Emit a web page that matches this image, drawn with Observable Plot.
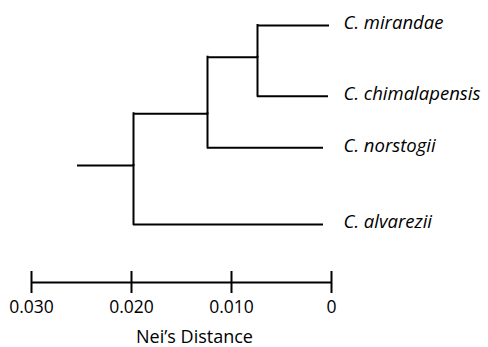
<!DOCTYPE html>
<html>
<head>
<meta charset="utf-8">
<script src="https://cdn.jsdelivr.net/npm/d3@7"></script>
<script src="https://cdn.jsdelivr.net/npm/@observablehq/plot@0.6"></script>
<style>
  html, body { margin: 0; padding: 0; background: #fff; }
  svg { display: block; }
</style>
</head>
<body>
<div id="chart"></div>
<script>
// Tips (taxa) and their distance from the present (Nei's distance) and row
const taxa = ["C. mirandae", "C. chimalapensis", "C. norstogii", "C. alvarezii"];
const taxonDist = [0.0002, 0.0003, 0.0008, 0.0008];
const taxonRow = [0, 1.066, 1.844, 3.0];
const taxonParent = ["A", "A", "B", "C"];

// Internal nodes
const nodeNames = ["A", "B", "C"];
const nodeDist = [0.0074, 0.0124, 0.0198];
const nodeRow = [0.478, 1.331, 2.111];
const nodeParent = ["B", "C", "root"];
const rootDist = 0.0254;

// Axis
const tickValues = [0.030, 0.020, 0.010, 0];
const tickLabels = ["0.030", "0.020", "0.010", "0"];
const axisTitle = "Nei\u2019s Distance";
const axisRow = 3.875;

const nodes = new Map();
nodeNames.forEach((n, i) => nodes.set(n, {dist: nodeDist[i], row: nodeRow[i]}));
nodes.set("root", {dist: rootDist, row: null});

const branches = [];
taxa.forEach((t, i) => branches.push({dist: taxonDist[i], row: taxonRow[i], parent: taxonParent[i]}));
nodeNames.forEach((n, i) => branches.push({dist: nodeDist[i], row: nodeRow[i], parent: nodeParent[i]}));

const horiz = branches.map(b => ({x1: nodes.get(b.parent).dist, x2: b.dist, y: b.row}));
const vert = branches.filter(b => b.parent !== "root")
  .map(b => ({x: nodes.get(b.parent).dist, y1: nodes.get(b.parent).row, y2: b.row}));

const labels = taxa.map((t, i) => ({name: t, row: taxonRow[i]}));
const ticks = tickValues.map((v, i) => ({v, label: tickLabels[i]}));

const font = "'Open Sans', sans-serif";

const chart = Plot.plot({
  width: 488,
  height: 347,
  marginLeft: 31,
  marginRight: 157,
  marginTop: 25,
  marginBottom: 65,
  style: {fontFamily: font, background: "#fff", overflow: "visible"},
  x: {domain: [0.030, 0], axis: null},
  y: {domain: [0, axisRow], reverse: true, axis: null},
  marks: [
    Plot.ruleX(vert, {x: "x", y1: "y1", y2: "y2", stroke: "#000", strokeWidth: 2, strokeLinecap: "square"}),
    Plot.ruleY(horiz, {y: "y", x1: "x1", x2: "x2", stroke: "#000", strokeWidth: 2}),
    Plot.text(labels, {x: () => 0, y: "row", text: "name", textAnchor: "start", dx: 12, dy: -2,
      fontSize: 18.5, fontStyle: "italic", fill: "#000"}),
    // axis line and ticks
    Plot.ruleY([axisRow], {x1: tickValues[0], x2: tickValues[tickValues.length - 1], stroke: "#000", strokeWidth: 2}),
    Plot.ruleX(ticks, {x: "v", y1: () => axisRow, y2: () => axisRow, insetTop: -11, insetBottom: -11, stroke: "#000", strokeWidth: 2}),
    Plot.text(ticks, {x: "v", y: () => axisRow, text: "label", dy: 25, fontSize: 17.5, fill: "#000"}),
    Plot.text([axisTitle], {frameAnchor: "bottom", lineAnchor: "middle", dx: 13, dy: 55, fontSize: 18, fill: "#000"})
  ]
});
document.getElementById("chart").appendChild(chart);
</script>
</body>
</html>
